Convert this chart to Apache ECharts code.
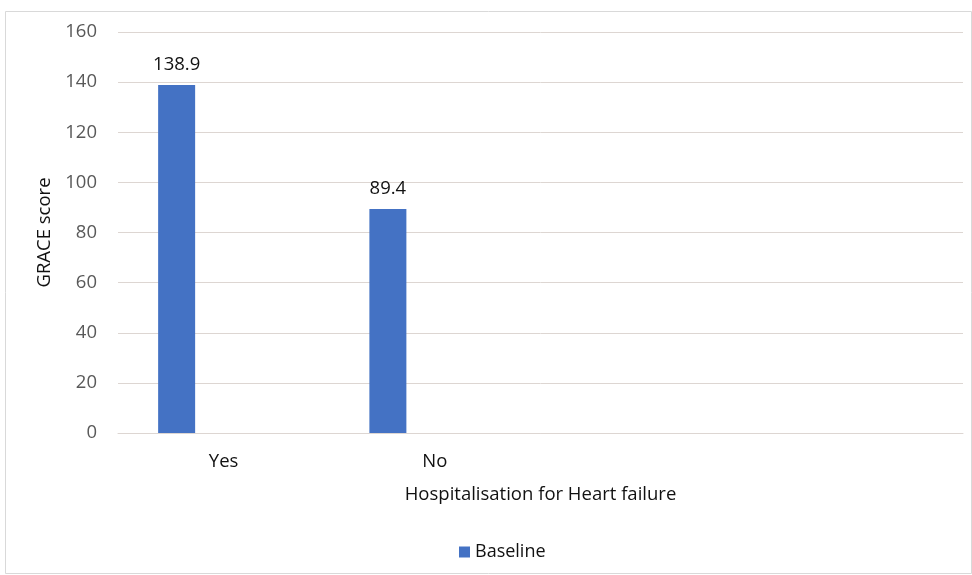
<!DOCTYPE html>
<html>
<head>
<meta charset="utf-8">
<script src="https://cdn.jsdelivr.net/npm/echarts@6/dist/echarts.min.js"></script>
<style>
html,body{margin:0;padding:0;background:#fff;}
#c{width:972px;height:575px;}
</style>
</head>
<body>
<div id="c"></div>
<script>
const categories = ['Yes', 'No', '', ''];
const baseline = [138.9, 89.4, '-', '-'];
const emptyA = ['-', '-', '-', '-'];
const emptyB = ['-', '-', '-', '-'];
const yTicks = { min: 0, max: 160, interval: 20 };

const FONT = 'Open Sans';
const chart = echarts.init(document.getElementById('c'));
chart.setOption({
  animation: false,
  backgroundColor: '#ffffff',
  textStyle: { fontFamily: FONT },
  graphic: [{
    type: 'rect', left: 3, top: 9,
    shape: { width: 966, height: 562 },
    style: { fill: 'none', stroke: '#d9d9d9', lineWidth: 1 },
    silent: true
  }],
  grid: { left: 118, right: 9, top: 32, bottom: 142 },
  legend: {
    data: ['Baseline'],
    left: 454, top: 538,
    icon: 'rect', itemWidth: 11, itemHeight: 11, itemGap: 6,
    textStyle: { fontFamily: FONT, fontSize: 18, color: '#111' }
  },
  xAxis: {
    type: 'category',
    data: categories,
    name: 'Hospitalisation for Heart failure',
    nameLocation: 'middle',
    nameGap: 52,
    nameTextStyle: { fontFamily: FONT, fontSize: 18.5, color: '#111' },
    axisLine: { show: true, lineStyle: { color: '#ddd6d2', width: 1 } },
    axisTick: { show: false },
    axisLabel: { fontFamily: FONT, fontSize: 18.5, color: '#111', margin: 19 }
  },
  yAxis: {
    type: 'value',
    min: yTicks.min, max: yTicks.max, interval: yTicks.interval,
    name: 'GRACE score',
    nameLocation: 'middle',
    nameGap: 61,
    nameRotate: 90,
    nameTextStyle: { fontFamily: FONT, fontSize: 18.5, color: '#111' },
    axisLine: { show: false },
    axisTick: { show: false },
    axisLabel: { fontFamily: FONT, fontSize: 18.5, color: '#595959', margin: 21 },
    splitLine: { lineStyle: { color: '#ddd6d2', width: 1 } }
  },
  series: [
    {
      name: 'Baseline', type: 'bar', data: baseline,
      barWidth: 37, barGap: '27%',
      itemStyle: { color: '#4472C4' },
      label: { show: true, position: 'top', distance: 11, fontFamily: FONT, fontSize: 18.5, color: '#111' }
    },
    { name: 'S2', type: 'bar', data: emptyA, barWidth: 37, barGap: '27%', itemStyle: { color: '#ED7D31' } },
    { name: 'S3', type: 'bar', data: emptyB, barWidth: 37, barGap: '27%', itemStyle: { color: '#A5A5A5' } }
  ]
});
</script>
</body>
</html>
